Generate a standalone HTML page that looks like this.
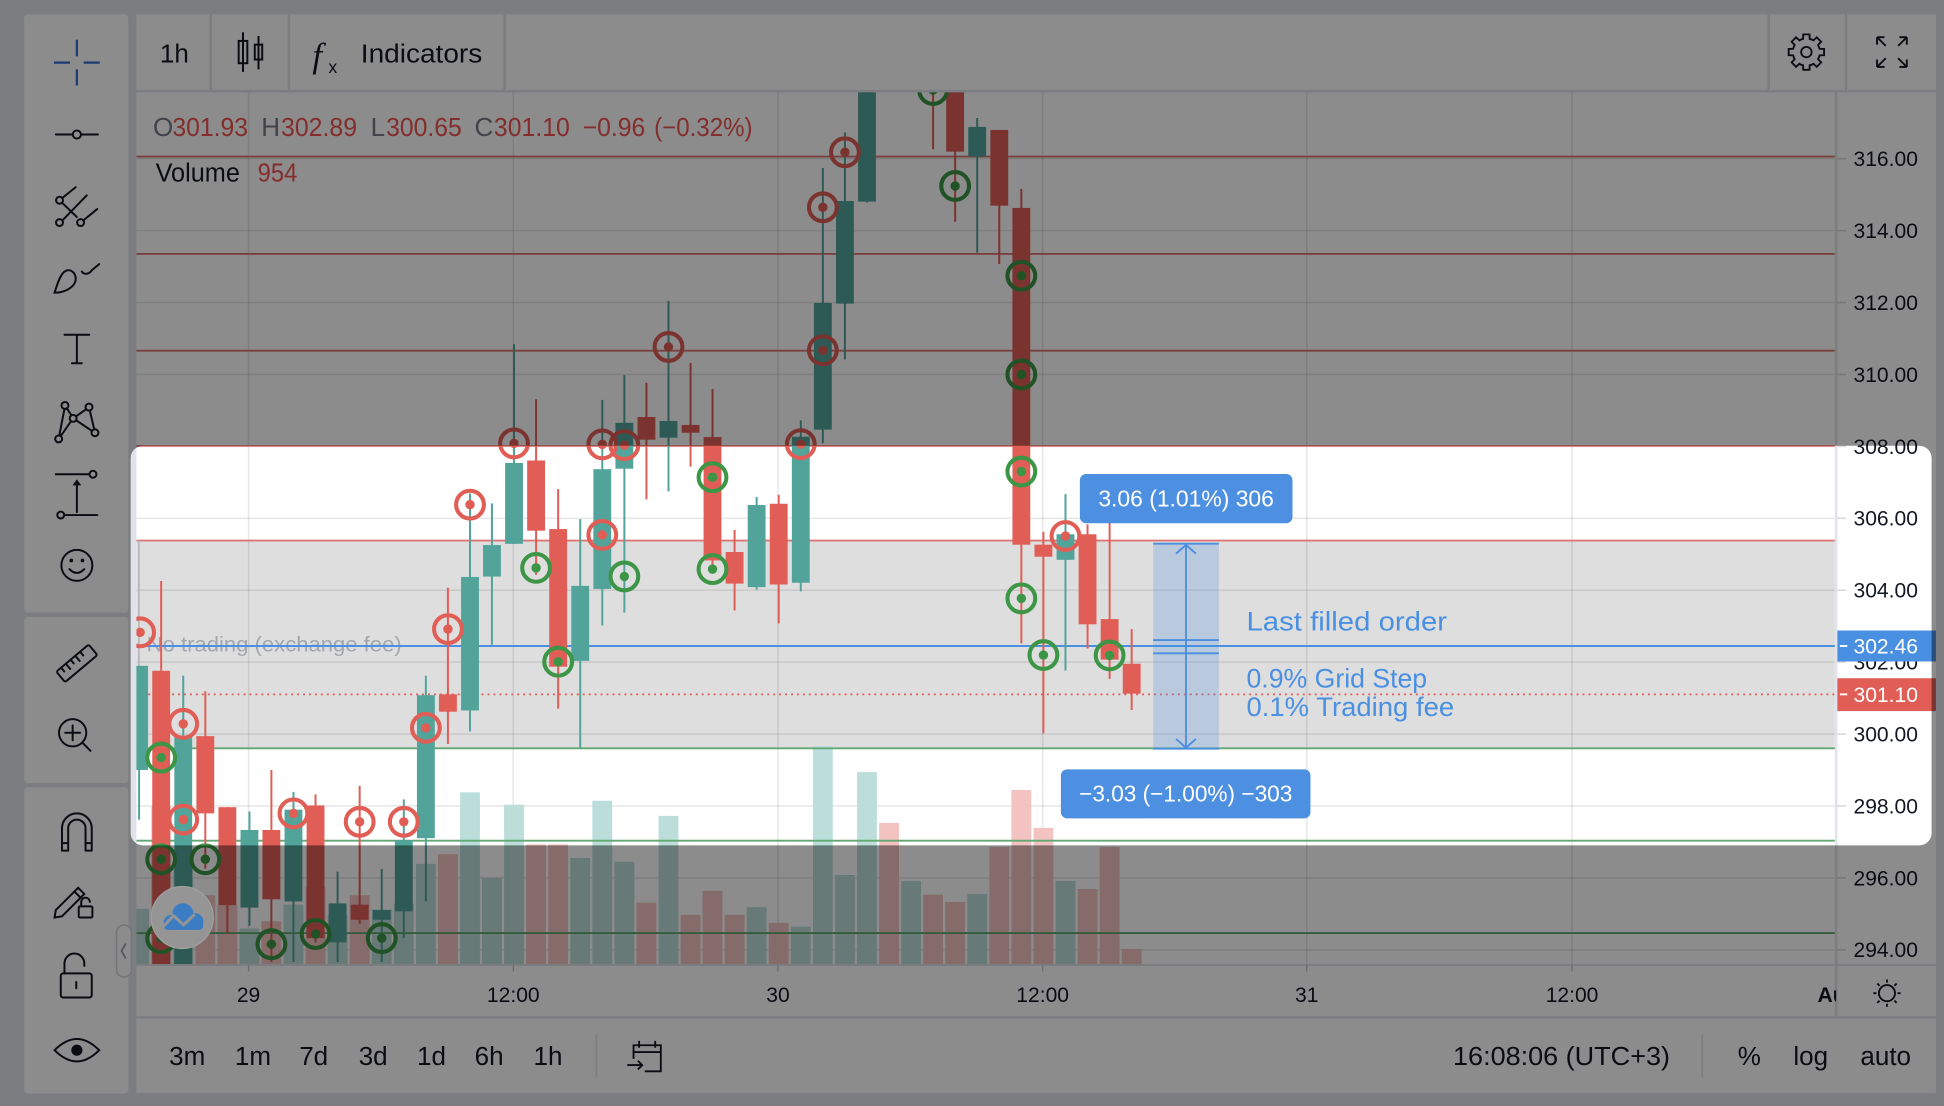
<!DOCTYPE html>
<html><head><meta charset="utf-8">
<style>html,body{margin:0;padding:0;background:#e1e3ea;overflow:hidden}svg{display:block}</style>
</head><body>
<svg xmlns="http://www.w3.org/2000/svg" width="1944" height="1106" viewBox="0 0 1568 892" preserveAspectRatio="none" font-family="'Liberation Sans', sans-serif">
<defs>
<clipPath id="cc"><rect x="110" y="74.5" width="1370" height="703"/></clipPath>
<clipPath id="tc"><rect x="110" y="778" width="1371" height="42"/></clipPath>
</defs>
<!-- backgrounds -->
<rect width="1568" height="892" fill="#e1e3ea"/>
<rect x="19.5" y="11.5" width="84" height="482.5" rx="3" fill="#fff"/>
<rect x="19.5" y="497.5" width="84" height="134" rx="3" fill="#fff"/>
<rect x="19.5" y="635" width="84" height="247" rx="3" fill="#fff"/>
<rect x="110" y="11.5" width="1451.5" height="61" fill="#fff"/>
<rect x="110" y="74.5" width="1370" height="703" fill="#fff"/>
<rect x="1482" y="74.5" width="79.5" height="703" fill="#fff"/>
<rect x="110" y="779" width="1370" height="40.5" fill="#fff"/>
<rect x="1482" y="779" width="79.5" height="40.5" fill="#fff"/>
<rect x="110" y="821.5" width="1451.5" height="60" fill="#fff"/>
<g stroke="#e0e3eb" stroke-width="2">
<path d="M170,11.5V72.5 M233,11.5V72.5 M407,11.5V72.5 M1426.6,11.5V72.5 M1489,11.5V72.5"/>
</g>

<!-- chart -->
<g clip-path="url(#cc)">
<rect x="110" y="436" width="1370" height="167.5" fill="#dedede"/>
<g stroke="rgba(0,0,0,0.09)" stroke-width="1.3">
<path d="M110,70H1480 M110,128H1480 M110,186H1480 M110,244H1480 M110,302H1480 M110,360H1480 M110,418H1480 M110,476H1480 M110,534H1480 M110,592H1480 M110,650H1480 M110,708H1480 M110,766H1480"/>
<path d="M200.5,74V778 M414,74V778 M627.5,74V778 M841,74V778 M1054,74V778 M1268,74V778"/>
</g>
<!-- volume -->
<g fill="#bcdedb">
<rect x="104.2" y="733" width="16" height="44.5"/><rect x="139.8" y="690" width="16" height="87.5"/><rect x="193.2" y="749" width="16" height="28.5"/><rect x="228.7" y="729.6" width="16" height="47.9"/><rect x="264.3" y="738" width="16" height="39.5"/><rect x="299.9" y="733.6" width="16" height="43.9"/><rect x="317.7" y="728.6" width="16" height="48.9"/><rect x="335.5" y="696.7" width="16" height="80.8"/><rect x="371.1" y="639" width="16" height="138.5"/><rect x="388.8" y="708" width="16" height="69.5"/><rect x="406.6" y="649" width="16" height="128.5"/><rect x="460" y="692" width="16" height="85.5"/><rect x="477.8" y="645.8" width="16" height="131.7"/><rect x="495.6" y="695" width="16" height="82.5"/><rect x="531.2" y="658" width="16" height="119.5"/><rect x="602.3" y="731.6" width="16" height="45.9"/><rect x="637.9" y="747.4" width="16" height="30.1"/><rect x="655.7" y="601.7" width="16" height="175.8"/><rect x="673.5" y="705.7" width="16" height="71.8"/><rect x="691.3" y="622.7" width="16" height="154.8"/><rect x="726.9" y="710.6" width="16" height="66.9"/><rect x="780.2" y="721" width="16" height="56.5"/><rect x="851.4" y="710.5" width="16" height="67"/>
</g>
<g fill="#f2c3c0">
<rect x="122" y="650" width="16" height="127.5"/><rect x="157.6" y="722" width="16" height="55.5"/><rect x="175.4" y="730" width="16" height="47.5"/><rect x="210.9" y="743" width="16" height="34.5"/><rect x="246.5" y="715.5" width="16" height="62"/><rect x="282.1" y="722" width="16" height="55.5"/><rect x="353.3" y="689" width="16" height="88.5"/><rect x="424.4" y="681" width="16" height="96.5"/><rect x="442.2" y="681" width="16" height="96.5"/><rect x="513.4" y="728" width="16" height="49.5"/><rect x="549" y="737.8" width="16" height="39.7"/><rect x="566.7" y="718.5" width="16" height="59"/><rect x="584.5" y="737.8" width="16" height="39.7"/><rect x="620.1" y="744.3" width="16" height="33.2"/><rect x="709.1" y="663.7" width="16" height="113.8"/><rect x="744.6" y="721.6" width="16" height="55.9"/><rect x="762.4" y="727.4" width="16" height="50.1"/><rect x="798" y="683" width="16" height="94.5"/><rect x="815.8" y="637.1" width="16" height="140.4"/><rect x="833.6" y="667.7" width="16" height="109.8"/><rect x="869.2" y="717" width="16" height="60.5"/><rect x="887" y="683" width="16" height="94.5"/><rect x="904.8" y="765.3" width="16" height="12.2"/>
</g>
<!-- level lines -->
<g stroke="#df7676" stroke-width="1.5"><path d="M110,126.3H1480 M110,204.8H1480 M110,282.8H1480 M110,359.7H1480 M110,436H1480"/></g>
<g stroke="#62a874" stroke-width="1.5"><path d="M110,603.5H1480 M110,678H1480 M110,752.5H1480"/></g>
<path d="M112,436V537" stroke="#b5b5b5" stroke-width="1.3"/>
<text x="118.3" y="525.5" font-size="17" fill="#a3a6ae" textLength="205.7" lengthAdjust="spacingAndGlyphs">No trading (exchange fee)</text>
<path d="M110,521H1480" stroke="#4a90e2" stroke-width="1.6"/>
<path d="M110,560H1480" stroke="#e05e56" stroke-width="1.4" stroke-dasharray="1.6 3.2"/>
<!-- candles -->
<path stroke="#52a49a" stroke-width="1.6" fill="none" d="M112.2,537V661 M147.8,545V594 M201.2,654.5V746.7 M236.7,638.7V776 M272.3,703V776 M307.9,701V776 M325.7,644.7V756.6 M343.5,545V727 M379.1,398V590 M396.8,406V520 M414.6,277.6V438.6 M468,418.7V603.7 M485.8,322.5V504.5 M503.6,302.5V494 M539.2,242.7V396.3 M610.3,400.8V475.5 M645.9,339V477 M663.7,135.5V357.5 M681.5,106.7V289.8 M699.3,60V163.2 M788.2,95.2V203.8 M859.4,398.5V540.9"/>
<g fill="#52a49a">
<rect x="105" y="537" width="14.4" height="84"/><rect x="140.6" y="593.7" width="14.4" height="185"/><rect x="194" y="669.4" width="14.4" height="62.6"/><rect x="229.5" y="653" width="14.4" height="74"/><rect x="265.1" y="728.6" width="14.4" height="31.4"/><rect x="300.7" y="734" width="14.4" height="7.8"/><rect x="318.5" y="677.6" width="14.4" height="57.4"/><rect x="336.3" y="560.7" width="14.4" height="115.3"/><rect x="371.9" y="465.3" width="14.4" height="107.7"/><rect x="389.6" y="439.6" width="14.4" height="25.4"/><rect x="407.4" y="373.4" width="14.4" height="65.2"/><rect x="460.8" y="472.5" width="14.4" height="60.5"/><rect x="478.6" y="378.4" width="14.4" height="96.6"/><rect x="496.4" y="341" width="14.4" height="37"/><rect x="532" y="339.5" width="14.4" height="13.5"/><rect x="603.1" y="407.3" width="14.4" height="66.2"/><rect x="638.7" y="352.2" width="14.4" height="117.8"/><rect x="656.5" y="244.3" width="14.4" height="102.2"/><rect x="674.3" y="162.1" width="14.4" height="82.8"/><rect x="692.1" y="60" width="14.4" height="102.6"/><rect x="781" y="102.4" width="14.4" height="23.9"/><rect x="852.2" y="430.9" width="14.4" height="20.6"/>
</g>
<path stroke="#e05e56" stroke-width="1.6" fill="none" d="M130,468.6V541 M165.6,557.5V700.6 M183.4,651V753 M218.9,621V776 M254.5,640.7V760 M290.1,633.8V745 M361.3,474V600 M432.4,322V463.6 M450.2,394.5V571.6 M521.4,308.7V402.8 M557,292.7V376.3 M574.7,313.7V460 M592.5,427.3V492.4 M628.1,399V502.8 M752.6,60V120.4 M770.4,60V178.8 M806,104.8V212.9 M823.8,152.4V518.9 M841.6,429V591.5 M877.2,422.9V523 M895,420V547.5 M912.8,507.4V572.6"/>
<g fill="#e05e56">
<rect x="122.8" y="541" width="14.4" height="238"/><rect x="158.4" y="593.7" width="14.4" height="62.3"/><rect x="176.2" y="651" width="14.4" height="79"/><rect x="211.7" y="669.4" width="14.4" height="55.9"/><rect x="247.3" y="649.6" width="14.4" height="107"/><rect x="282.9" y="729.6" width="14.4" height="12.2"/><rect x="354.1" y="560" width="14.4" height="14"/><rect x="425.2" y="371.4" width="14.4" height="56.6"/><rect x="443" y="426.7" width="14.4" height="111"/><rect x="514.2" y="336.3" width="14.4" height="18.3"/><rect x="549.8" y="342.7" width="14.4" height="6.3"/><rect x="567.5" y="352.5" width="14.4" height="99.5"/><rect x="585.3" y="445.2" width="14.4" height="25.5"/><rect x="620.9" y="406.3" width="14.4" height="65.1"/><rect x="745.4" y="60" width="14.4" height="14"/><rect x="763.2" y="60" width="14.4" height="62.3"/><rect x="798.8" y="104.8" width="14.4" height="61.1"/><rect x="816.6" y="167.7" width="14.4" height="271.6"/><rect x="834.4" y="439.3" width="14.4" height="9.7"/><rect x="870" y="430.9" width="14.4" height="72.6"/><rect x="887.8" y="499.3" width="14.4" height="32.7"/><rect x="905.6" y="535.3" width="14.4" height="24.1"/>
</g>
<!-- markers -->
<g fill="none" stroke="#e05e56" stroke-width="3.3">
<circle cx="113" cy="510" r="11.2"/><circle cx="147.8" cy="583.8" r="11.2"/><circle cx="147.8" cy="661" r="11.2"/><circle cx="236.7" cy="656" r="11.2"/><circle cx="290.1" cy="662.8" r="11.2"/><circle cx="325.7" cy="662.8" r="11.2"/><circle cx="343.5" cy="587" r="11.2"/><circle cx="361.3" cy="507.4" r="11.2"/><circle cx="379.1" cy="407" r="11.2"/><circle cx="414.6" cy="357.6" r="11.2"/><circle cx="485.8" cy="358.4" r="11.2"/><circle cx="485.8" cy="431.4" r="11.2"/><circle cx="503.6" cy="359" r="11.2"/><circle cx="539.2" cy="279.8" r="11.2"/><circle cx="645.9" cy="358.2" r="11.2"/><circle cx="663.7" cy="167.2" r="11.2"/><circle cx="663.7" cy="282.5" r="11.2"/><circle cx="681.5" cy="122.8" r="11.2"/><circle cx="859.4" cy="432.3" r="11.2"/>
</g>
<g fill="#e05e56">
<circle cx="113" cy="510" r="3.8"/><circle cx="147.8" cy="583.8" r="3.8"/><circle cx="147.8" cy="661" r="3.8"/><circle cx="236.7" cy="656" r="3.8"/><circle cx="290.1" cy="662.8" r="3.8"/><circle cx="325.7" cy="662.8" r="3.8"/><circle cx="343.5" cy="587" r="3.8"/><circle cx="361.3" cy="507.4" r="3.8"/><circle cx="379.1" cy="407" r="3.8"/><circle cx="414.6" cy="357.6" r="3.8"/><circle cx="485.8" cy="358.4" r="3.8"/><circle cx="485.8" cy="431.4" r="3.8"/><circle cx="503.6" cy="359" r="3.8"/><circle cx="539.2" cy="279.8" r="3.8"/><circle cx="645.9" cy="358.2" r="3.8"/><circle cx="663.7" cy="167.2" r="3.8"/><circle cx="663.7" cy="282.5" r="3.8"/><circle cx="681.5" cy="122.8" r="3.8"/><circle cx="859.4" cy="432.3" r="3.8"/>
</g>
<g fill="none" stroke="#3c9646" stroke-width="3.3">
<circle cx="130" cy="611" r="11.2"/><circle cx="130" cy="693" r="11.2"/><circle cx="130" cy="756.7" r="11.2"/><circle cx="165.6" cy="693" r="11.2"/><circle cx="218.9" cy="761.5" r="11.2"/><circle cx="254.5" cy="753.3" r="11.2"/><circle cx="307.9" cy="756.6" r="11.2"/><circle cx="432.4" cy="458" r="11.2"/><circle cx="450.2" cy="533.7" r="11.2"/><circle cx="503.6" cy="464.9" r="11.2"/><circle cx="574.7" cy="384.9" r="11.2"/><circle cx="574.7" cy="459" r="11.2"/><circle cx="752.6" cy="72.6" r="11.2"/><circle cx="770.4" cy="150" r="11.2"/><circle cx="823.8" cy="222.4" r="11.2"/><circle cx="823.8" cy="302" r="11.2"/><circle cx="823.8" cy="380.3" r="11.2"/><circle cx="823.8" cy="482.6" r="11.2"/><circle cx="841.6" cy="528.3" r="11.2"/><circle cx="895" cy="528.6" r="11.2"/>
</g>
<g fill="#3c9646">
<circle cx="130" cy="611" r="3.8"/><circle cx="130" cy="693" r="3.8"/><circle cx="130" cy="756.7" r="3.8"/><circle cx="165.6" cy="693" r="3.8"/><circle cx="218.9" cy="761.5" r="3.8"/><circle cx="254.5" cy="753.3" r="3.8"/><circle cx="307.9" cy="756.6" r="3.8"/><circle cx="432.4" cy="458" r="3.8"/><circle cx="450.2" cy="533.7" r="3.8"/><circle cx="503.6" cy="464.9" r="3.8"/><circle cx="574.7" cy="384.9" r="3.8"/><circle cx="574.7" cy="459" r="3.8"/><circle cx="752.6" cy="72.6" r="3.8"/><circle cx="770.4" cy="150" r="3.8"/><circle cx="823.8" cy="222.4" r="3.8"/><circle cx="823.8" cy="302" r="3.8"/><circle cx="823.8" cy="380.3" r="3.8"/><circle cx="823.8" cy="482.6" r="3.8"/><circle cx="841.6" cy="528.3" r="3.8"/><circle cx="895" cy="528.6" r="3.8"/>
</g>
<!-- price range tool -->
<rect x="930.1" y="438.2" width="53" height="166.1" fill="rgba(74,144,226,0.25)"/>
<g stroke="#4a8ee0" stroke-width="1.5" fill="none">
<path d="M930.1,438.5H983.1 M930.1,603.8H983.1 M930.1,516.2H983.1 M930.1,526.9H983.1 M956.6,439.5V603"/>
<path d="M948.6,446.5L956.6,439.5L964.6,446.5 M948.6,596L956.6,603L964.6,596"/>
</g>
<text x="1005.4" y="508.6" font-size="21.6" fill="#4a90e2" textLength="161.8" lengthAdjust="spacingAndGlyphs">Last filled order</text>
<text x="1005.4" y="554.6" font-size="21.6" fill="#4a90e2" textLength="145.7" lengthAdjust="spacingAndGlyphs">0.9% Grid Step</text>
<text x="1005.4" y="577.4" font-size="21.6" fill="#4a90e2" textLength="167.5" lengthAdjust="spacingAndGlyphs">0.1% Trading fee</text>
<rect x="871" y="382.3" width="171.5" height="39.7" rx="5" fill="#4d8fe0"/>
<text x="956.7" y="408.6" font-size="18.6" fill="#fff" text-anchor="middle" textLength="141.6" lengthAdjust="spacingAndGlyphs">3.06 (1.01%) 306</text>
<rect x="855.7" y="620.5" width="201.3" height="39.5" rx="5" fill="#4d8fe0"/>
<text x="956.4" y="646.5" font-size="18.6" fill="#fff" text-anchor="middle" textLength="172" lengthAdjust="spacingAndGlyphs">−3.03 (−1.00%) −303</text>
<!-- legend -->
<g font-size="21">
<text x="123.4" y="109.7" fill="#787b86">O</text>
<text x="139" y="109.7" fill="#ef5350" textLength="61" lengthAdjust="spacingAndGlyphs">301.93</text>
<text x="210.7" y="109.7" fill="#787b86">H</text>
<text x="226.7" y="109.7" fill="#ef5350" textLength="61.3" lengthAdjust="spacingAndGlyphs">302.89</text>
<text x="299" y="109.7" fill="#787b86">L</text>
<text x="311.5" y="109.7" fill="#ef5350" textLength="61" lengthAdjust="spacingAndGlyphs">300.65</text>
<text x="382.7" y="109.7" fill="#787b86">C</text>
<text x="398.4" y="109.7" fill="#ef5350" textLength="61.2" lengthAdjust="spacingAndGlyphs">301.10</text>
<text x="470" y="109.7" fill="#ef5350" textLength="50.5" lengthAdjust="spacingAndGlyphs">−0.96</text>
<text x="527.6" y="109.7" fill="#ef5350" textLength="79.4" lengthAdjust="spacingAndGlyphs">(−0.32%)</text>
<text x="125.5" y="146.5" fill="#131722" textLength="68" lengthAdjust="spacingAndGlyphs">Volume</text>
<text x="207.8" y="146.5" fill="#ef5350" textLength="32" lengthAdjust="spacingAndGlyphs">954</text>
</g>
</g>

<!-- price axis -->
<path d="M1481,74.5V778" stroke="#e0e3eb" stroke-width="1.5"/>
<g stroke="#d6d9e0" stroke-width="1.3">
<path d="M1482,128H1489 M1482,186H1489 M1482,244H1489 M1482,302H1489 M1482,360H1489 M1482,418H1489 M1482,476H1489 M1482,534H1489 M1482,592H1489 M1482,650H1489 M1482,708H1489 M1482,766H1489"/>
</g>
<g font-size="17" fill="#131722">
<text x="1495" y="134">316.00</text><text x="1495" y="192">314.00</text><text x="1495" y="250">312.00</text><text x="1495" y="308">310.00</text><text x="1495" y="366">308.00</text><text x="1495" y="424">306.00</text><text x="1495" y="482">304.00</text><text x="1495" y="540">302.00</text><text x="1495" y="598">300.00</text><text x="1495" y="656">298.00</text><text x="1495" y="714">296.00</text><text x="1495" y="772">294.00</text>
</g>
<rect x="1482" y="508.5" width="79.5" height="25" fill="#4a90e2"/>
<path d="M1484,521H1490" stroke="#fff" stroke-width="1.5"/>
<text x="1495" y="527.2" font-size="17" fill="#fff">302.46</text>
<rect x="1482" y="547" width="79.5" height="26.5" fill="#e05e56"/>
<path d="M1484,560H1490" stroke="#fff" stroke-width="1.5"/>
<text x="1495" y="566.2" font-size="17" fill="#fff">301.10</text>

<!-- time axis -->
<path d="M110,778.5H1481" stroke="#e0e3eb" stroke-width="1"/>
<g stroke="#c8cbd3" stroke-width="1.2"><path d="M200.5,778V783.5 M414,778V783.5 M627.5,778V783.5 M841,778V783.5 M1054,778V783.5 M1268,778V783.5"/></g>
<g font-size="17" fill="#131722" text-anchor="middle">
<text x="200.5" y="808">29</text><text x="414" y="808">12:00</text><text x="627.5" y="808">30</text><text x="841" y="808">12:00</text><text x="1054" y="808">31</text><text x="1268" y="808">12:00</text>
</g>
<g clip-path="url(#tc)"><text x="1466" y="808" font-size="17" font-weight="bold" fill="#131722">Aug</text></g>
<g stroke="#131722" stroke-width="1.5" fill="none">
<circle cx="1522" cy="801" r="6.5"/>
<path d="M1522,790V792.5 M1522,809.5V812 M1511,801H1513.5 M1530.5,801H1533 M1514.2,793.2L1516,795 M1528,807L1529.8,808.8 M1529.8,793.2L1528,795 M1516,807L1514.2,808.8"/>
</g>

<!-- bottom bar -->
<g font-size="21" fill="#131722" text-anchor="middle">
<text x="151" y="859">3m</text><text x="204" y="859">1m</text><text x="253" y="859">7d</text><text x="301" y="859">3d</text><text x="348" y="859">1d</text><text x="394.5" y="859">6h</text><text x="442" y="859">1h</text>
<text x="1259.5" y="859" textLength="175" lengthAdjust="spacingAndGlyphs">16:08:06 (UTC+3)</text>
<text x="1411" y="859">%</text><text x="1460.5" y="859">log</text><text x="1521" y="859">auto</text>
</g>
<path d="M481,834V868.5 M1373,834V868.5" stroke="#e0e3eb" stroke-width="1.5"/>
<g stroke="#131722" stroke-width="1.5" fill="none">
<path d="M511,854V843H533V864H520 M511,848.5H533 M515.5,839.5V845 M528.5,839.5V845 M506,859H518 M514.5,855.5L518,859L514.5,862.5"/>
</g>

<!-- top toolbar -->
<g font-size="21" fill="#131722">
<text x="129" y="50.3">1h</text>
<text x="291" y="50.3" textLength="98" lengthAdjust="spacingAndGlyphs">Indicators</text>
</g>
<g stroke="#131722" stroke-width="1.6" fill="none">
<path d="M196,26V58 M208.5,29V56"/>
<rect x="192.5" y="33" width="7" height="18"/>
<rect x="205.5" y="36" width="6" height="12"/>
</g>
<text x="252" y="54" font-family="'Liberation Serif', serif" font-style="italic" font-size="28" fill="#131722">f</text>
<text x="265" y="59" font-size="14" fill="#131722">x</text>
<g stroke="#131722" stroke-width="1.5" fill="none">
<path d="M1454.34,31.33 L1454.48,27.72 L1459.52,27.72 L1459.66,31.33 A11,11 0 0 1 1462.67,32.57 L1465.32,30.12 L1468.88,33.68 L1466.43,36.33 A11,11 0 0 1 1467.67,39.34 L1471.28,39.48 L1471.28,44.52 L1467.67,44.66 A11,11 0 0 1 1466.43,47.67 L1468.88,50.32 L1465.32,53.88 L1462.67,51.43 A11,11 0 0 1 1459.66,52.67 L1459.52,56.28 L1454.48,56.28 L1454.34,52.67 A11,11 0 0 1 1451.33,51.43 L1448.68,53.88 L1445.12,50.32 L1447.57,47.67 A11,11 0 0 1 1446.33,44.66 L1442.72,44.52 L1442.72,39.48 L1446.33,39.34 A11,11 0 0 1 1447.57,36.33 L1445.12,33.68 L1448.68,30.12 L1451.33,32.57 A11,11 0 0 1 1454.34,31.33 Z"/>
<circle cx="1457" cy="42" r="4.2"/>
<path d="M1514,30L1521,37 M1514,30H1520 M1514,30V36 M1538,30L1531,37 M1538,30H1532 M1538,30V36 M1514,54L1521,47 M1514,54H1520 M1514,54V48 M1538,54L1531,47 M1538,54H1532 M1538,54V48"/>
</g>

<!-- left toolbar icons -->
<path d="M43.5,50.5H56.5 M67.5,50.5H80.5 M62,32V45.5 M62,56V69" stroke="#2e6fd6" stroke-width="1.8" fill="none"/>
<g stroke="#131722" stroke-width="1.6" fill="none" stroke-linecap="round">
<path d="M45,108.5H58.5 M65.5,108.5H79"/><circle cx="62" cy="108.5" r="3.3"/>
<circle cx="48" cy="161.5" r="2.8"/><circle cx="48" cy="179.5" r="2.8"/><circle cx="65" cy="179.5" r="2.8"/>
<path d="M50.5,159.5L61,151 M50.3,177.8L70,157.5 M50.5,164L62,175 M67.5,177.5L78.5,168.5"/>
<path d="M44,236C52,236 60,232 61,226C62,220 56,215 51,220C48,223 46,230 44,236Z M66,219C68,222 72,221 74,218L80,213"/>
<path d="M52,270H72 M62,270V293 M58,293H66"/>
<circle cx="52.4" cy="327" r="2.8"/><circle cx="71.8" cy="328.3" r="2.8"/><circle cx="47.3" cy="354" r="2.8"/><circle cx="76.6" cy="349" r="2.8"/><circle cx="59" cy="337.4" r="2.8"/>
<path d="M47.8,351.3L52,329.8 M53.9,329.3L57.6,335 M61.3,335.8L69.6,330 M72.4,331L76,346.2 M48.9,351.8L57.4,339.6 M61.3,338.9L74.3,347.6"/>
<path d="M45,382.5H72 M53,415.4H78.5 M62,413V390"/><circle cx="75" cy="382.5" r="2.8"/><circle cx="49" cy="415.4" r="2.8"/>
<circle cx="62" cy="456" r="12.5"/><path d="M56,459Q62,465 68,459"/>
<g transform="rotate(-40 62 535)"><rect x="45" y="529.5" width="34" height="11" rx="1.5"/><path d="M50,529.5V533.5 M55,529.5V535 M60,529.5V533.5 M65,529.5V535 M70,529.5V533.5"/></g>
<circle cx="58.6" cy="591" r="11"/><path d="M58.6,585V597 M52.6,591H64.6 M66.5,599L73,605.5"/>
<path d="M50,686V668A12,12 0 0 1 74,668V686 M55,686V668A7,7 0 0 1 69,668V686 M50,680H55 M69,680H74 M50,686H55 M69,686H74"/>
<path d="M45,734L63,716L68,721L50,739L44,740Z M60,719L65,724"/><rect x="63.5" y="731" width="11" height="9" rx="1"/><path d="M65.5,731V727.5A3.5,3.5 0 0 1 72.5,727.5"/>
<rect x="49" y="785" width="25" height="19.5" rx="2"/><path d="M52,785V777A8,8 0 0 1 68,777V779 M61.5,792V797"/>
<path d="M44,847Q62,829 80,847Q62,865 44,847Z"/>
</g>
<g fill="#131722"><path d="M58.5,391.5L62,386.5L65.5,391.5Z"/><circle cx="57.5" cy="452" r="1.5"/><circle cx="66.5" cy="452" r="1.5"/><circle cx="62" cy="847" r="4.5"/></g>
<rect x="94" y="746" width="12" height="42" rx="6" fill="#fff" stroke="#d1d4dc" stroke-width="1.2"/>
<path d="M101.5,761L98,767L101.5,773" stroke="#9598a1" stroke-width="1.3" fill="none"/>

<!-- spotlight mask -->
<path fill="rgba(0,0,0,0.45)" fill-rule="evenodd" d="M0,0H1568V892H0Z M115.4,359.5H1548A10,10 0 0 1 1558,369.5V671.8A10,10 0 0 1 1548,681.8H115.4A10,10 0 0 1 105.4,671.8V369.5A10,10 0 0 1 115.4,359.5Z"/>

<!-- floating logo -->
<circle cx="147" cy="740" r="25" fill="#959595" stroke="#a0a0a0" stroke-width="1"/>
<g fill="#3b7cc2">
<circle cx="138" cy="744" r="6"/><circle cx="147.5" cy="737" r="8.5"/><circle cx="157.5" cy="743" r="6.5"/><rect x="132" y="743" width="32" height="7" rx="3.5"/>
</g>
<path d="M131,748L140,738.5L148,746L157,737.5" stroke="#959595" stroke-width="2.4" fill="none"/>
</svg>
</body></html>
